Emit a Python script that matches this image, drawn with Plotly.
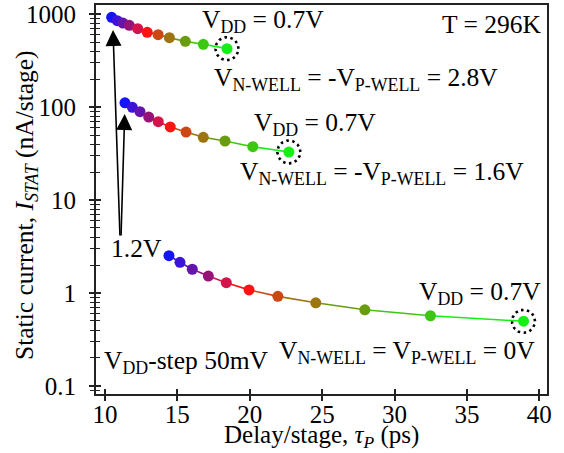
import numpy as np
import plotly.graph_objects as go

# ---------------- data ----------------
vdd_steps = ["1.2V", "1.15V", "1.1V", "1.05V", "1.0V", "0.95V", "0.9V", "0.85V", "0.8V", "0.75V", "0.7V"]

delay_28 = [10.46, 10.85, 11.24, 11.68, 12.26, 12.92, 13.67, 14.45, 15.55, 16.79, 18.43]
istat_28 = [922, 847, 800, 756, 695, 635, 599, 556, 508, 472, 424]

delay_16 = [11.38, 11.89, 12.42, 13.02, 13.68, 14.51, 15.60, 16.79, 18.29, 20.21, 22.70]
istat_16 = [111, 99.3, 89, 78, 69.5, 61, 53.8, 47.2, 43.1, 37.4, 32.8]

delay_0 = [14.42, 15.18, 16.03, 17.14, 18.38, 19.95, 21.94, 24.56, 27.95, 32.48, 38.91]
istat_0 = [2.52, 2.14, 1.80, 1.52, 1.29, 1.08, 0.92, 0.785, 0.66, 0.569, 0.497]

point_colors = ["#1414ff", "#3c14d8", "#6414aa", "#961478", "#d2144a", "#ff1414",
                "#cc4812", "#9c7410", "#6a9c10", "#3cc812", "#14f014"]

y_tickvals = [0.1, 1, 10, 100, 1000]
y_ticktext = ["0.1", "1", "10", "100", "1000"]
x_tickvals = [10, 15, 20, 25, 30, 35, 40]

x_title = "Delay/stage, <i>τ<sub>P</sub></i> (ps)"
y_title = "Static current, <i>I<sub>STAT</sub></i> (nA/stage)"

# ---------------- layout geometry ----------------
W, H = 564, 453
ML, MR, MT, MB = 96, 17, 5, 59
XR = [9.38, 40.53]
YR = [np.log10(0.082), np.log10(1250)]
PW, PH = W - ML - MR, H - MT - MB
px_per_x = PW / (XR[1] - XR[0])
px_per_dec = PH / (YR[1] - YR[0])

FONT = "Liberation Serif, Times New Roman, serif"
TICK_SIZE = 25
TITLE_SIZE = 25
ANN_SIZE = 25.5

fig = go.Figure()

series = [(delay_28, istat_28), (delay_16, istat_16), (delay_0, istat_0)]
for xs, ys in series:
    # colored segments
    for i in range(len(xs) - 1):
        fig.add_trace(go.Scatter(x=[xs[i], xs[i + 1]], y=[ys[i], ys[i + 1]], mode="lines",
                                 line=dict(color=point_colors[i + 1], width=1.6),
                                 showlegend=False, hoverinfo="skip"))
    fig.add_trace(go.Scatter(x=xs, y=ys, mode="markers",
                             marker=dict(color=point_colors, size=11, line=dict(width=0)),
                             showlegend=False, text=vdd_steps))
    # dotted circle around the last (VDD = 0.7V) point
    t = np.linspace(0, 2 * np.pi, 80)
    r = 11.5
    cx = xs[-1] + r * np.cos(t) / px_per_x
    cy = ys[-1] * 10 ** (r * np.sin(t) / px_per_dec)
    fig.add_trace(go.Scatter(x=cx, y=cy, mode="lines",
                             line=dict(color="black", width=2.6, dash="2.5px,3.5px"),
                             showlegend=False, hoverinfo="skip"))

# invisible trace on overlay axes (for ticks crossing the axis lines)
fig.add_trace(go.Scatter(x=delay_0, y=istat_0, mode="lines", line=dict(width=0),
                         opacity=0, xaxis="x2", yaxis="y2", showlegend=False, hoverinfo="skip"))

minor_vals = [m * 10 ** e for e in range(-2, 4) for m in range(2, 10)]

axis_line = dict(showline=True, linecolor="#222", linewidth=2, showgrid=False, zeroline=False)
fig.update_layout(
    width=W, height=H,
    margin=dict(l=ML, r=MR, t=MT, b=MB, autoexpand=False),
    plot_bgcolor="white", paper_bgcolor="white",
    font=dict(family=FONT, size=TICK_SIZE, color="black"),
    xaxis=dict(range=XR, tickvals=x_tickvals, ticks="outside", ticklen=5, tickwidth=1.5,
               tickcolor="#222", mirror=True, ticklabelstandoff=-8,
               tickfont=dict(size=TICK_SIZE), **axis_line),
    yaxis=dict(type="log", range=YR, tickvals=y_tickvals, ticktext=y_ticktext,
               ticks="outside", ticklen=5, tickwidth=1.5, tickcolor="#222", mirror=True,
               ticklabelstandoff=8,
               minor=dict(tickvals=minor_vals, ticks="outside", ticklen=4, tickwidth=1.2,
                          tickcolor="#222"),
               tickfont=dict(size=TICK_SIZE), **axis_line),
    xaxis2=dict(range=XR, overlaying="x", tickvals=x_tickvals, ticks="inside", ticklen=5,
                tickwidth=1.5, tickcolor="#222", showticklabels=False, showgrid=False,
                zeroline=False, showline=False),
    yaxis2=dict(type="log", range=YR, overlaying="y", tickvals=y_tickvals, ticks="inside",
                ticklen=5, tickwidth=1.5, tickcolor="#222", showticklabels=False,
                minor=dict(tickvals=minor_vals, ticks="inside", ticklen=4, tickwidth=1.2,
                           tickcolor="#222"),
                showgrid=False, zeroline=False, showline=False),
)


def px(xp):
    return (xp - ML) / PW


def py(yp):
    return (H - MB - yp) / PH


# axis titles
fig.add_annotation(text=x_title, x=px(321.5), y=py(436), xref="paper", yref="paper",
                   xanchor="center", yanchor="middle", showarrow=False,
                   font=dict(family=FONT, size=TITLE_SIZE, color="black"))
fig.add_annotation(text=y_title, x=px(26), y=py(205), xref="paper", yref="paper",
                   xanchor="center", yanchor="middle", showarrow=False, textangle=-90,
                   font=dict(family=FONT, size=25.5, color="black"))

labels = [
    ("V<sub>DD</sub> = 0.7V", 200, 21),
    ("T = 296K", 440, 24),
    ("V<sub>N-WELL</sub> = -V<sub>P-WELL</sub> = 2.8V", 212, 79),
    ("V<sub>DD</sub> = 0.7V", 252, 124),
    ("V<sub>N-WELL</sub> = -V<sub>P-WELL</sub> = 1.6V", 238, 173),
    ("1.2V", 109, 248),
    ("V<sub>DD</sub> = 0.7V", 417, 293),
    ("V<sub>N-WELL</sub> = V<sub>P-WELL</sub> = 0V", 277, 352),
    ("V<sub>DD</sub>-step 50mV", 102, 362),
]
for txt, lx, ly in labels:
    fig.add_annotation(text=txt, x=px(lx), y=py(ly), xref="paper", yref="paper",
                       xanchor="left", yanchor="middle", showarrow=False,
                       font=dict(family=FONT, size=ANN_SIZE, color="black"))

# arrows from the 1.2V label to the first points
for tipx, tipy, tailx, taily in [(113, 30, 120, 237), (124.7, 114, 121, 237)]:
    fig.add_annotation(text="", x=px(tipx), y=py(tipy), xref="paper", yref="paper",
                       ax=tailx - tipx, ay=taily - tipy, showarrow=True,
                       arrowhead=2, arrowsize=2, arrowwidth=1.6, arrowcolor="black")

fig.write_html("out.html", config={"displayModeBar": False},
               post_script="document.body.style.margin='0';document.body.style.padding='0';")
